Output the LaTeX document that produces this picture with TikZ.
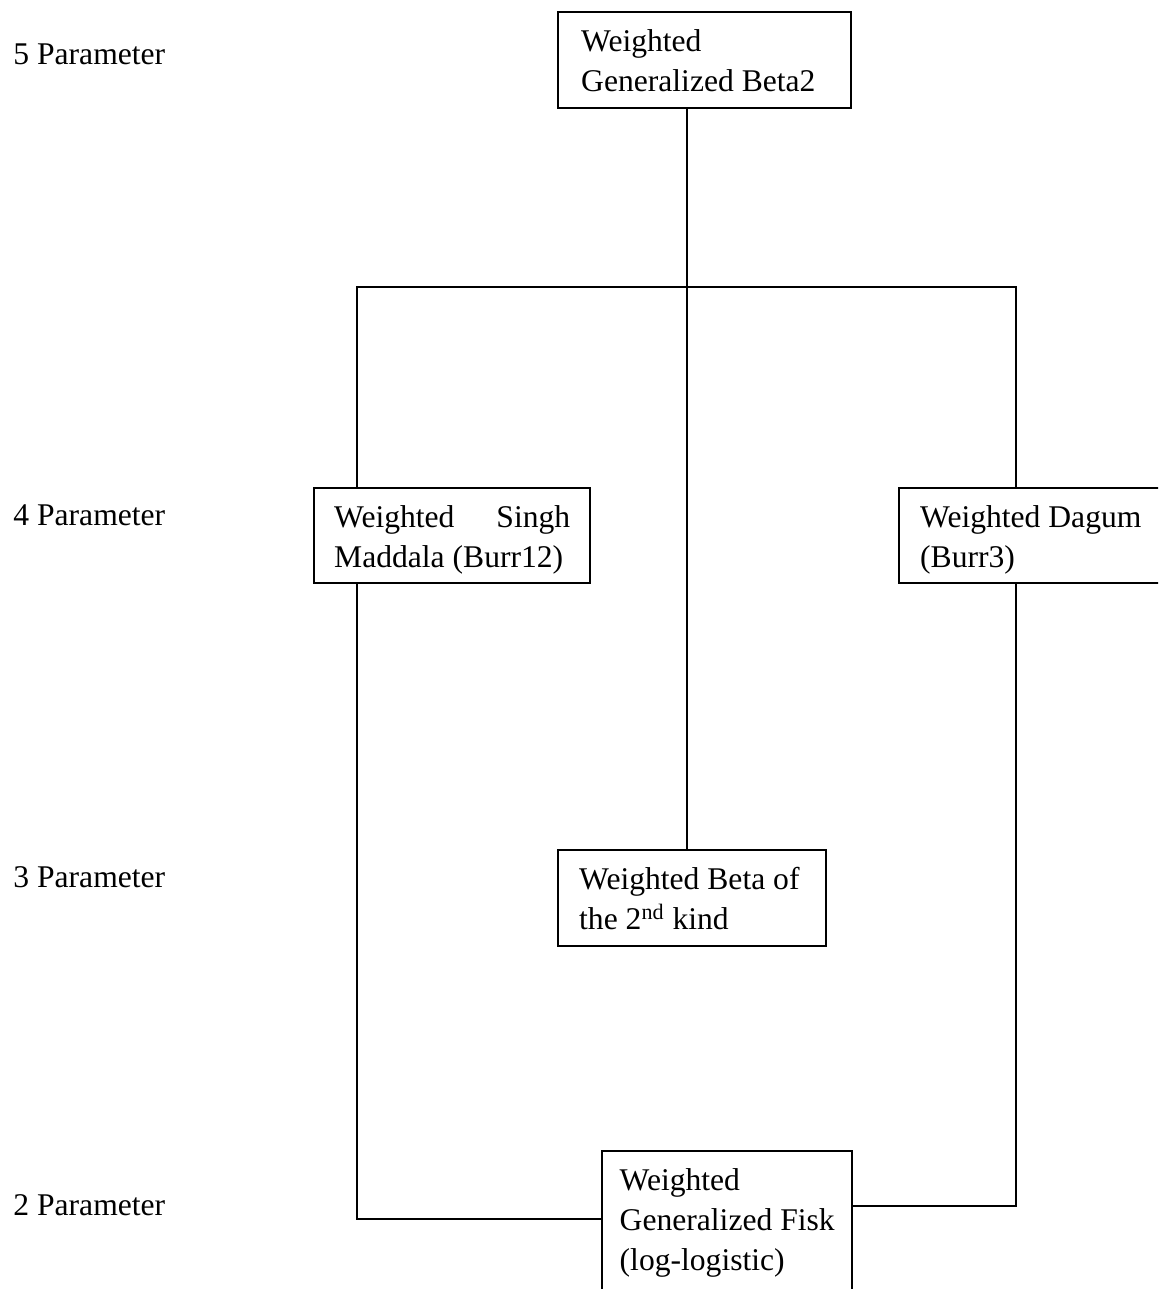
\documentclass[tikz,border=0pt]{standalone}
\usepackage{fontspec}
\setmainfont{Liberation Serif}
% fixed-size text block: width, height, lines
\newcommand\boxlines[3]{\parbox[t][#2][t]{#1}{\rule{0pt}{10.8pt}#3}}
\begin{document}
\begin{tikzpicture}[x=0.5pt,y=-0.5pt,
  every node/.style={font=\fontsize{15.8}{20}\selectfont},
  famlybox/.style={draw,line width=1.2pt,anchor=north west,inner ysep=8.7pt},
  link/.style={line width=1pt},
  level/.style={anchor=base west,inner sep=0pt}]
\useasboundingbox (0,0) rectangle (1158,1289);
\clip (0,0) rectangle (1158,1289);

% parameter levels
\node[level] (p5) at (13,65)   {5 Parameter};
\node[level] (p4) at (13,525)  {4 Parameter};
\node[level] (p3) at (13,887)  {3 Parameter};
\node[level] (p2) at (13,1215) {2 Parameter};

% distributions
\node[famlybox,inner xsep=11.5pt] (gb2) at (557,11)
  {\boxlines{123.5pt}{30.6pt}{Weighted\\Generalized Beta2}};
\node[famlybox,inner xsep=10pt] (sm) at (313,487)
  {\boxlines{118pt}{30.1pt}{Weighted\hfill Singh\\Maddala (Burr12)}};
\node[famlybox,inner xsep=10.5pt] (dag) at (898,487)
  {\boxlines{117pt}{30.1pt}{Weighted Dagum\\(Burr3)}};
\node[famlybox,inner xsep=10.5pt] (b2) at (557,849)
  {\boxlines{113pt}{30.6pt}{Weighted Beta of\\the 2\textsuperscript{nd} kind}};
\node[famlybox,inner xsep=8.75pt] (fisk) at (601,1150)
  {\boxlines{107.5pt}{62.6pt}{Weighted\\Generalized\hfill Fisk\\(log-logistic)}};

% connector routing points
\coordinate (split) at (687,287);
\coordinate (barL)  at (357,287);
\coordinate (barR)  at (1016,287);
\coordinate (jl)    at (357,1219);
\coordinate (jr)    at (1016,1206);

\draw[link] (gb2.south -| split) -- (b2.north -| split);
\draw[link] (sm.north -| barL) -- (barL) -- (barR) -- (dag.north -| barR);
\draw[link] (sm.south -| jl) -- (jl) -- (jl -| fisk.west);
\draw[link] (dag.south -| jr) -- (jr) -- (jr -| fisk.east);
\end{tikzpicture}
\end{document}
